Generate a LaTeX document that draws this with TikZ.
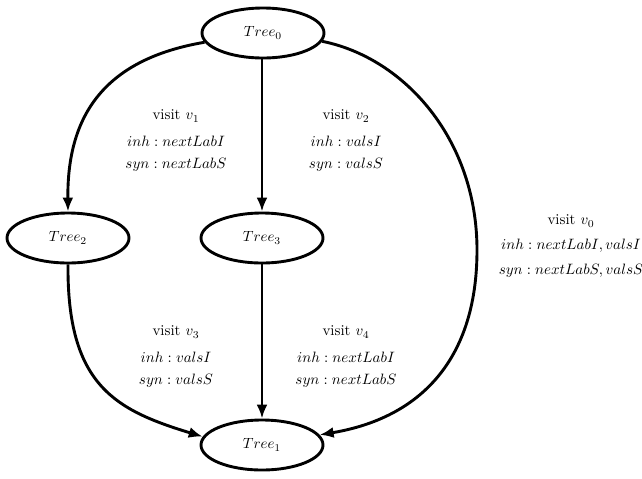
\documentclass[tikz,border=0pt]{standalone}
\usetikzlibrary{shapes.geometric,arrows.meta}
\begin{document}
\begin{tikzpicture}[x=0.5pt,y=-0.5pt,
  tree/.style={ellipse,draw,line width=1.45pt,minimum width=61pt,minimum height=25pt,inner sep=0pt},
  treetext/.style={inner sep=0pt,scale=0.74},
  flow/.style={line width=1.45pt,-{Latex[length=7pt,width=5.5pt]}},
  lbl/.style={inner sep=0pt,scale=0.75}]
\useasboundingbox (0,0) rectangle (642,478);

\node[tree] (t0) at (263,33)  {};
\node[tree] (t2) at (68,238)  {};
\node[tree] (t3) at (262,238) {};
\node[tree] (t1) at (262,445) {};
\node[treetext] (n0) at (t0) {$Tree_0$};
\node[treetext] (n2) at (t2) {$Tree_2$};
\node[treetext] (n3) at (t3) {$Tree_3$};
\node[treetext] (n1) at (t1) {$Tree_1$};

% edges
\draw[flow] (t0.189) .. controls (100,60) and (67,120) .. (t2.north);
\draw[flow] (t0.south -| t3.north) -- (t3.north);
\draw[flow] (t0.-8) .. controls (405,58) and (477,140) .. (477,250)
                    .. controls (477,360) and (420,418) .. (t1.10);
\draw[flow] (t2.south) .. controls (67,385) and (115,410) .. (t1.172);
\draw[flow] (t3.south) -- (t1.north);

% visit annotations
\node[lbl] (v1a) at (176,116) {visit $v_1$};
\node[lbl] (v1b) at (176,141) {$inh : nextLabI$};
\node[lbl] (v1c) at (176,165) {$syn : nextLabS$};

\node[lbl] (v2a) at (346,116) {visit $v_2$};
\node[lbl] (v2b) at (346,141) {$inh : valsI$};
\node[lbl] (v2c) at (346,165) {$syn : valsS$};

\node[lbl] (v0a) at (571,221) {visit $v_0$};
\node[lbl] (v0b) at (571,246) {$inh : nextLabI, valsI$};
\node[lbl] (v0c) at (571,271) {$syn : nextLabS, valsS$};

\node[lbl] (v3a) at (176,332) {visit $v_3$};
\node[lbl] (v3b) at (176,357) {$inh : valsI$};
\node[lbl] (v3c) at (176,381) {$syn : valsS$};

\node[lbl] (v4a) at (346,332) {visit $v_4$};
\node[lbl] (v4b) at (346,357) {$inh : nextLabI$};
\node[lbl] (v4c) at (346,381) {$syn : nextLabS$};
\end{tikzpicture}
\end{document}
